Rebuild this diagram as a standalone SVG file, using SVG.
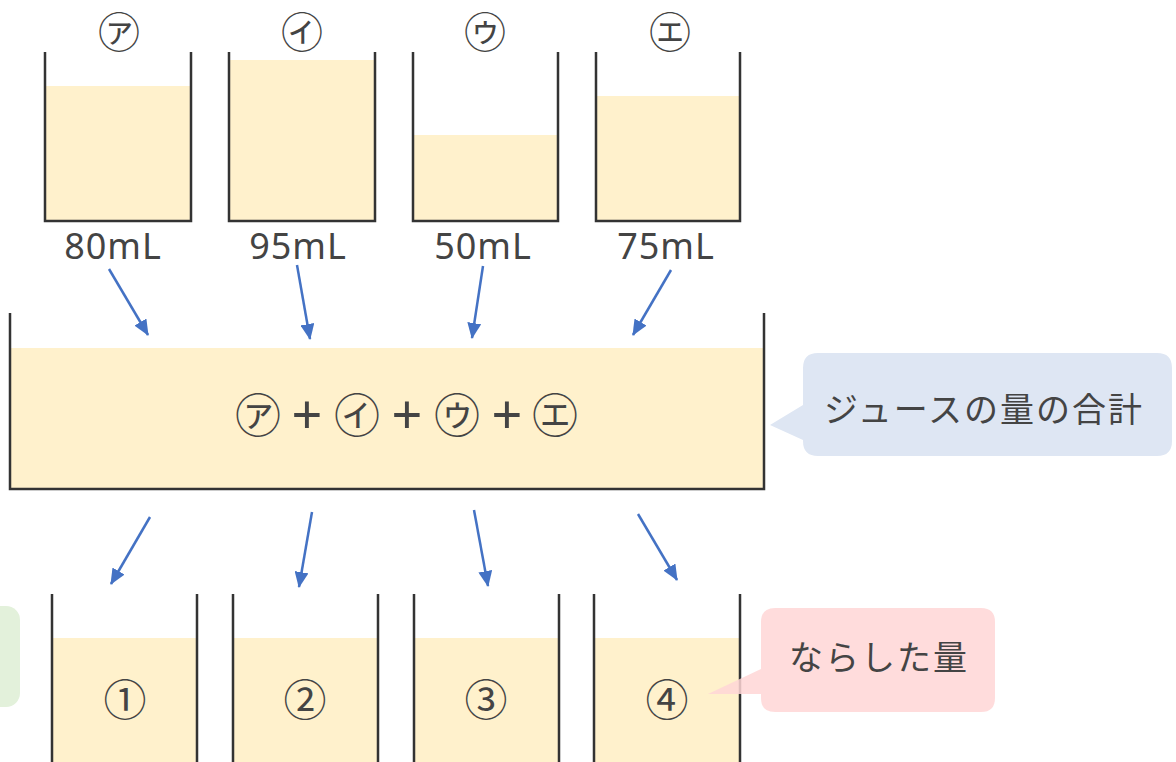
<svg xmlns="http://www.w3.org/2000/svg" width="1176" height="762" viewBox="0 0 1176 762">
<style>
.fill{fill:#FFF1CC}
.wall{fill:none;stroke:#333;stroke-width:2.5}
.arr{stroke:#4472C4;stroke-width:2.5;fill:none;marker-end:url(#ah)}
.t{font-family:"Noto Sans CJK JP","Noto Sans",sans-serif;fill:#444;text-anchor:middle}
.ml{font-family:"Noto Sans","Noto Sans CJK JP",sans-serif;fill:#444;text-anchor:middle;font-size:36px;letter-spacing:1px}
.ck{font-size:46px}
.ckt{font-size:42px}
.cn{font-size:43px}
.pl{font-family:"Noto Sans",sans-serif;font-size:54px}
.lbl{font-size:34px;letter-spacing:2px}
</style>
<defs>
<marker id="ah" markerUnits="userSpaceOnUse" markerWidth="16" markerHeight="14" refX="15" refY="7" orient="auto">
<path d="M0,0 L16,7 L0,14 z" fill="#4472C4"/>
</marker>
</defs>
<rect width="1176" height="762" fill="#fff"/>

<g id="cupA">
<rect class="fill" x="46" y="86" width="144" height="135"/>
<path class="wall" d="M45,52 V221 H191 V52"/>
<text class="t ckt" x="119" y="48">㋐</text>
<text class="ml" x="113" y="259">80mL</text>
</g>
<g id="cupI">
<rect class="fill" x="230" y="60" width="144" height="161"/>
<path class="wall" d="M229,52 V221 H375 V52"/>
<text class="t ckt" x="302" y="48">㋑</text>
<text class="ml" x="298" y="259">95mL</text>
</g>
<g id="cupU">
<rect class="fill" x="414" y="135" width="143" height="86"/>
<path class="wall" d="M413,52 V221 H558 V52"/>
<text class="t ckt" x="485" y="48">㋒</text>
<text class="ml" x="483" y="259">50mL</text>
</g>
<g id="cupE">
<rect class="fill" x="597" y="96" width="142" height="125"/>
<path class="wall" d="M596,52 V221 H740 V52"/>
<text class="t ckt" x="670" y="48">㋓</text>
<text class="ml" x="666" y="259">75mL</text>
</g>

<g id="total">
<rect class="fill" x="11" y="348" width="752" height="141"/>
<path class="wall" d="M10,313 V489 H764 V313"/>
<text class="t ck" y="432"><tspan x="258">㋐</tspan><tspan class="pl" x="307" y="434">+</tspan><tspan x="357" y="432">㋑</tspan><tspan class="pl" x="407" y="434">+</tspan><tspan x="457" y="432">㋒</tspan><tspan class="pl" x="507" y="434">+</tspan><tspan x="555" y="432">㋓</tspan></text>
</g>

<g id="bubbleTotal">
<path d="M818,353 H1157 Q1172,353 1172,368 V441 Q1172,456 1157,456 H818 Q803,456 803,441 V440 L770,425 L803,405 V368 Q803,353 818,353 Z" fill="#DEE6F3"/>
<text class="t lbl" x="984" y="422">ジュースの量の合計</text>
</g>

<g id="cup1">
<rect class="fill" x="53" y="638" width="143" height="124"/>
<path class="wall" d="M52,594 V762 M197,594 V762"/>
<text class="t cn" x="125" y="716">①</text>
</g>
<g id="cup2">
<rect class="fill" x="234" y="638" width="143" height="124"/>
<path class="wall" d="M233,594 V762 M378,594 V762"/>
<text class="t cn" x="305" y="716">②</text>
</g>
<g id="cup3">
<rect class="fill" x="415" y="638" width="143" height="124"/>
<path class="wall" d="M414,594 V762 M559,594 V762"/>
<text class="t cn" x="486" y="716">③</text>
</g>
<g id="cup4">
<rect class="fill" x="595" y="638" width="144" height="124"/>
<path class="wall" d="M594,594 V762 M740,594 V762"/>
<text class="t cn" x="667" y="716">④</text>
</g>

<g id="bubbleLevel">
<path d="M775,608 H981 Q995,608 995,622 V698 Q995,712 981,712 H775 Q761,712 761,698 V694 H708 L761,669 V622 Q761,608 775,608 Z" fill="#FFD6D6" fill-opacity="0.85"/>
<text class="t lbl" x="879" y="670">ならした量</text>
</g>

<g id="bubbleLeft">
<rect x="-20" y="606" width="40" height="101" rx="14" fill="#E3F1DB"/>
</g>

<g id="connectors">
<path class="arr" d="M109,269 L148,335"/>
<path class="arr" d="M297,265 L310,339"/>
<path class="arr" d="M483,266 L472,338"/>
<path class="arr" d="M671,270 L633,335"/>
<path class="arr" d="M150,517 L111,584"/>
<path class="arr" d="M312,512 L299,587"/>
<path class="arr" d="M474,510 L488,586"/>
<path class="arr" d="M638,514 L677,580"/>
</g>
</svg>
